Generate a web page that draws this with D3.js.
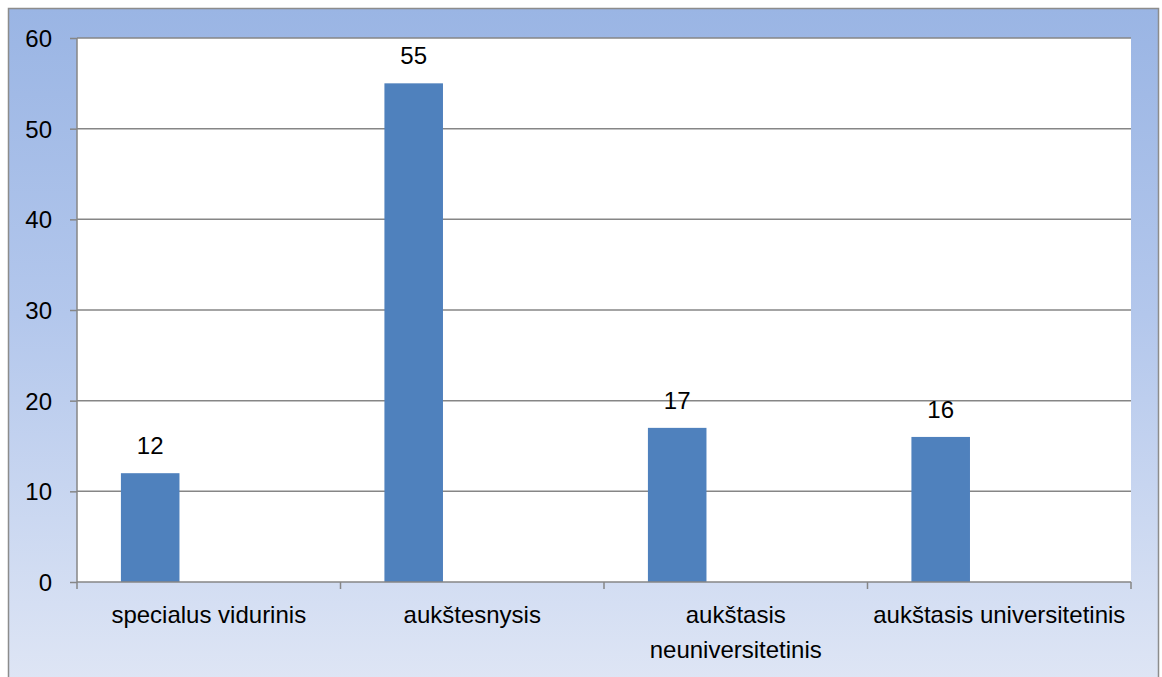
<!DOCTYPE html>
<html><head><meta charset="utf-8">
<script src="https://cdn.jsdelivr.net/npm/d3@7"></script>
<style>
html,body{margin:0;padding:0;background:#fff;}
svg{display:block;}
text{font-family:"Liberation Sans", Arial, sans-serif; fill:#000;}
</style></head>
<body>
<svg id="chart" width="1162" height="677"></svg>
<script>
const categories = ["specialus vidurinis","aukštesnysis","aukštasis neuniversitetinis","aukštasis universitetinis"];
const tickLabelLines = [["specialus vidurinis"],["aukštesnysis"],["aukštasis","neuniversitetinis"],["aukštasis universitetinis"]];
const values = [12, 55, 17, 16];
const yTicks = [0,10,20,30,40,50,60];
const seriesSlots = ["s1","s2","s3"];

const svg = d3.select("#chart");
const defs = svg.append("defs");
const grad = defs.append("linearGradient").attr("id","bg").attr("x1",0).attr("y1",0).attr("x2",0).attr("y2",1);
grad.append("stop").attr("offset","0%").attr("stop-color","#9ab5e4");
grad.append("stop").attr("offset","45%").attr("stop-color","#b3c7ec");
grad.append("stop").attr("offset","100%").attr("stop-color","#dfe6f5");

svg.append("rect").attr("x",8.5).attr("y",8.5).attr("width",1150).attr("height",680)
  .attr("fill","url(#bg)").attr("stroke","#8c8c8c").attr("stroke-width",1.5);

const m = {l:77, r:1131, t:38, b:582};
const FS = 24;
const x = d3.scaleBand().domain(categories).range([m.l, m.r]).padding(0);
const y = d3.scaleLinear().domain([0,60]).range([m.b, m.t]);
const bw = x.bandwidth();
const inner = d3.scaleBand().domain(seriesSlots).range([bw*0.75/4.5, bw - bw*0.75/4.5]).padding(0);

svg.append("rect").attr("x",m.l).attr("y",m.t).attr("width",m.r-m.l).attr("height",m.b-m.t).attr("fill","#fff");

// gridlines
svg.append("g").selectAll("line").data(yTicks.filter(d=>d>0)).join("line")
  .attr("x1",m.l).attr("x2",m.r).attr("y1",d=>y(d)).attr("y2",d=>y(d))
  .attr("stroke","#868686").attr("stroke-width",1.5);

// bars
svg.append("g").selectAll("rect").data(values).join("rect")
  .attr("x",(d,i)=>x(categories[i])+inner("s1"))
  .attr("width",inner.bandwidth())
  .attr("y",d=>y(d)).attr("height",d=>y(0)-y(d))
  .attr("fill","#4f81bd");

// data labels
svg.append("g").selectAll("text").data(values).join("text")
  .attr("x",(d,i)=>x(categories[i])+inner("s1")+inner.bandwidth()/2)
  .attr("y",d=>y(d)-19)
  .attr("text-anchor","middle").attr("font-size",FS).text(d=>d);

// y axis
const yAxis = d3.axisLeft(y).tickValues(yTicks).tickSize(7).tickPadding(18).tickFormat(d3.format("d"));
const gy = svg.append("g").attr("transform",`translate(${m.l},0)`).call(yAxis);
gy.select(".domain").attr("stroke","#868686").attr("stroke-width",1.5).attr("d",`M0,${m.t}V${m.b}`);
gy.selectAll(".tick line").attr("stroke","#868686").attr("stroke-width",1.5);
gy.selectAll(".tick text").attr("font-size",FS).attr("font-family",null).attr("dy","0.35em");

// x axis
const gx = svg.append("g").attr("transform",`translate(0,${m.b})`);
gx.append("line").attr("x1",m.l).attr("x2",m.r).attr("y1",0).attr("y2",0).attr("stroke","#868686").attr("stroke-width",1.5);
const tickPos = categories.map(c=>x(c)).concat([m.r]);
gx.selectAll("line.tk").data(tickPos).join("line").attr("class","tk")
  .attr("x1",d=>d).attr("x2",d=>d).attr("y1",0).attr("y2",7)
  .attr("stroke","#868686").attr("stroke-width",1.5);
const lab = gx.selectAll("text.cl").data(tickLabelLines).join("text").attr("class","cl")
  .attr("text-anchor","middle").attr("font-size",FS)
  .attr("transform",(d,i)=>`translate(${x(categories[i])+bw/2},0)`);
lab.selectAll("tspan").data(d=>d).join("tspan")
  .attr("x",0).attr("y",(d,j)=>41+j*35).text(d=>d);
</script>
</body></html>
